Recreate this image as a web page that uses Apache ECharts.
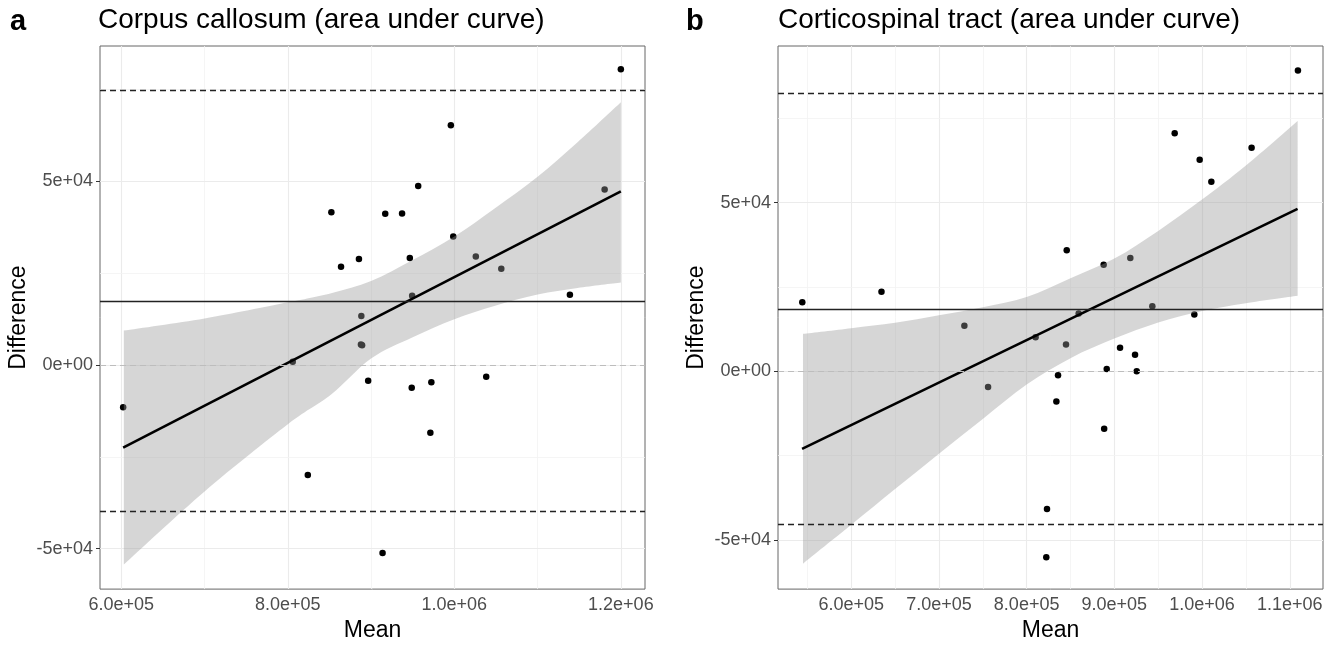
<!DOCTYPE html>
<html><head><meta charset="utf-8">
<script src="https://cdn.jsdelivr.net/npm/echarts@6/dist/echarts.min.js"></script>
<style>html,body{margin:0;padding:0;background:#fff}#c{width:1338px;height:647px}</style>
</head><body><div id="c"></div>
<script>
// ---------- Panel a: Corpus callosum ----------
const ptsAx = [1200000, 995800, 956600, 852300, 917000, 937200, 1180500, 998700, 863900, 885400, 946500, 1025800, 1056400, 949300, 1138800, 888300, 887800, 889200, 805900, 602200, 896500, 948800, 972400, 1038300, 971200, 824000, 913800];
const ptsAy = [80600, 65300, 48800, 41600, 41200, 41300, 47800, 35000, 26800, 28900, 29150, 29550, 26250, 18900, 19150, 13400, 5600, 5400, 900, -11450, -4250, -6200, -4650, -3200, -18400, -29900, -51200];
const fitAx = [602200, 1200000];
const fitAy = [-22490, 47320];
const bandAx = [603000, 700000, 800000, 852000, 900000, 950000, 1000000, 1048000, 1100000, 1148000, 1200000];
const bandAhi = [9400, 12700, 17100, 19600, 22900, 28600, 35000, 42600, 51300, 60700, 71600];
const bandAlo = [-54300, -34400, -16100, -8000, 1800, 7600, 12500, 16100, 19200, 21000, 22500];
const refsA = {mean: 17500, upper: 74900, lower: -39900};
const xTicksA = [600000, 800000, 1000000, 1200000];
const xLabelsA = ['6.0e+05', '8.0e+05', '1.0e+06', '1.2e+06'];
const xMinorA = [700000, 900000, 1100000];

// ---------- Panel b: Corticospinal tract ----------
const ptsBx = [1109300, 968800, 1056500, 997300, 1010600, 845700, 887800, 918200, 943300, 991200, 859300, 844900, 906500, 923600, 891300, 925500, 835800, 833900, 544200, 634500, 729000, 810200, 756000, 823200, 822400, 888400];
const ptsBy = [89150, 70540, 66280, 62690, 56200, 35850, 31590, 33620, 19280, 16860, 17150, 7950, 6980, 4940, 680, 0, -1160, -8910, 20450, 23550, 13470, 10080, -4650, -40800, -55140, -16990];
const fitBx = [543950, 1108900];
const fitBy = [-23010, 48150];
const bandBx = [545000, 600000, 650000, 700000, 750000, 800000, 850000, 900000, 950000, 1000000, 1050000, 1109000];
const bandBhi = [11100, 12800, 14400, 16600, 19000, 22000, 27600, 33400, 41600, 50900, 61000, 74200];
const bandBlo = [-57000, -45500, -34900, -24400, -14100, -3900, 3900, 9700, 14500, 17900, 20200, 22400];
const refsB = {mean: 18450, upper: 82350, lower: -45450};
const xTicksB = [600000, 700000, 800000, 900000, 1000000, 1100000];
const xLabelsB = ['6.0e+05', '7.0e+05', '8.0e+05', '9.0e+05', '1.0e+06', '1.1e+06'];
const xMinorB = [550000, 650000, 750000, 850000, 950000, 1050000];

// ---------- shared y ticks ----------
const yTicks = [-50000, 0, 50000];
const yLabels = ['-5e+04', '0e+00', '5e+04'];
const yMinor = [-25000, 25000, 75000];

const titles = ['Corpus callosum (area under curve)', 'Corticospinal tract (area under curve)'];
const letters = ['a', 'b'];

const FONT = '"Liberation Sans", Arial, Helvetica, sans-serif';

function lookup(vals, labs) {
  return function (v) { const i = vals.indexOf(v); return i >= 0 ? labs[i] : ''; };
}

function curve(p) {
  let s = '';
  const n = p.length;
  for (let i = 0; i < n - 1; i++) {
    const p0 = p[Math.max(i - 1, 0)], p1 = p[i], p2 = p[i + 1], p3 = p[Math.min(i + 2, n - 1)];
    const c1 = [p1[0] + (p2[0] - p0[0]) / 6, p1[1] + (p2[1] - p0[1]) / 6];
    const c2 = [p2[0] - (p3[0] - p1[0]) / 6, p2[1] - (p3[1] - p1[1]) / 6];
    s += ' C' + c1[0] + ' ' + c1[1] + ' ' + c2[0] + ' ' + c2[1] + ' ' + p2[0] + ' ' + p2[1];
  }
  return s;
}

function bandRender(xs, lo, hi) {
  return function (params, api) {
    if (params.dataIndex !== 0) return null;
    const up = xs.map((x, i) => api.coord([x, hi[i]]));
    const dn = xs.map((x, i) => api.coord([x, lo[i]])).reverse();
    const d = 'M' + up[0][0] + ' ' + up[0][1] + curve(up) +
      ' L' + dn[0][0] + ' ' + dn[0][1] + curve(dn) + ' Z';
    return { type: 'path', shape: { pathData: d }, style: { fill: 'rgba(153,153,153,0.4)', stroke: null } };
  };
}

function makeX(gi, min, max, ticks, labels) {
  return {
    type: 'value', gridIndex: gi, min: min, max: max,
    axisLine: { show: false },
    axisTick: { show: true, length: 4, lineStyle: { color: '#333', width: 1 }, customValues: ticks },
    axisLabel: { customValues: ticks, formatter: lookup(ticks, labels), color: '#4d4d4d', fontSize: 18, fontFamily: FONT, margin: 7 },
    splitLine: { show: false },
    name: 'Mean', nameLocation: 'middle', nameGap: 27,
    nameTextStyle: { fontSize: 23, color: '#000', fontFamily: FONT }
  };
}
function makeY(gi, min, max) {
  return {
    type: 'value', gridIndex: gi, min: min, max: max,
    axisLine: { show: false },
    axisTick: { show: true, length: 4, lineStyle: { color: '#333', width: 1 }, customValues: yTicks },
    axisLabel: { customValues: yTicks, formatter: lookup(yTicks, yLabels), color: '#4d4d4d', fontSize: 18, fontFamily: FONT, margin: 7 },
    splitLine: { show: false },
    name: 'Difference', nameLocation: 'middle', nameGap: 70,
    nameTextStyle: { fontSize: 23, color: '#000', fontFamily: FONT }
  };
}

function panelSeries(gi, px, py, fx, fy, bx, blo, bhi, refs, xMaj, xMin) {
  const grid = [];
  xMaj.forEach(v => grid.push({ xAxis: v, lineStyle: { color: '#ebebeb', width: 1.1, type: 'solid' } }));
  xMin.forEach(v => grid.push({ xAxis: v, lineStyle: { color: '#f3f3f3', width: 0.8, type: 'solid' } }));
  yTicks.forEach(v => grid.push({ yAxis: v, lineStyle: { color: '#ebebeb', width: 1.1, type: 'solid' } }));
  yMinor.forEach(v => grid.push({ yAxis: v, lineStyle: { color: '#f3f3f3', width: 0.8, type: 'solid' } }));
  return [
    { type: 'line', xAxisIndex: gi, yAxisIndex: gi, data: [], z: 1, silent: true,
      markLine: { z: 1, silent: true, symbol: ['none', 'none'], label: { show: false }, animation: false, data: grid } },
    { type: 'scatter', xAxisIndex: gi, yAxisIndex: gi, z: 2, symbolSize: 6.5, itemStyle: { color: '#000', opacity: 1 },
      data: px.map((x, i) => [x, py[i]]) },
    { type: 'custom', xAxisIndex: gi, yAxisIndex: gi, z: 3, silent: true,
      renderItem: bandRender(bx, blo, bhi),
      data: bx.map((x, i) => [x, blo[i], bhi[i]]), encode: { x: 0, y: [1, 2] } },
    { type: 'line', xAxisIndex: gi, yAxisIndex: gi, z: 4, showSymbol: false, symbol: 'none',
      lineStyle: { color: '#000', width: 2.6 }, data: fx.map((x, i) => [x, fy[i]]),
      markLine: { z: 5, silent: true, symbol: ['none', 'none'], label: { show: false }, animation: false,
        data: [
          { yAxis: 0, lineStyle: { color: '#bdbdbd', width: 1, type: [6, 4] } },
          { yAxis: refs.mean, lineStyle: { color: '#222', width: 1.4, type: 'solid' } },
          { yAxis: refs.upper, lineStyle: { color: '#222', width: 1.3, type: [6, 4] } },
          { yAxis: refs.lower, lineStyle: { color: '#222', width: 1.3, type: [6, 4] } }
        ] } }
  ];
}

const chart = echarts.init(document.getElementById('c'), null, { renderer: 'canvas' });
const option = {
  animation: false,
  backgroundColor: '#fff',
  textStyle: { fontFamily: FONT },
  grid: [
    { left: 100, right: 693, top: 46, bottom: 49, show: true, borderColor: '#666', borderWidth: 1, backgroundColor: 'transparent', containLabel: false },
    { left: 778, right: 15, top: 46, bottom: 49, show: true, borderColor: '#666', borderWidth: 1, backgroundColor: 'transparent', containLabel: false }
  ],
  xAxis: [makeX(0, 574400, 1229000, xTicksA, xLabelsA), makeX(1, 516500, 1137900, xTicksB, xLabelsB)],
  yAxis: [makeY(0, -61000, 86900), makeY(1, -64550, 96420)],
  graphic: [
    { type: 'text', left: 10, top: 7, style: { text: letters[0], font: 'bold 29px ' + FONT, fill: '#000' } },
    { type: 'text', left: 98, top: 6, style: { text: titles[0], font: '28px ' + FONT, fill: '#000' } },
    { type: 'text', left: 686, top: 7, style: { text: letters[1], font: 'bold 29px ' + FONT, fill: '#000' } },
    { type: 'text', left: 778, top: 6, style: { text: titles[1], font: '28px ' + FONT, fill: '#000' } }
  ],
  series: [].concat(
    panelSeries(0, ptsAx, ptsAy, fitAx, fitAy, bandAx, bandAlo, bandAhi, refsA, xTicksA, xMinorA),
    panelSeries(1, ptsBx, ptsBy, fitBx, fitBy, bandBx, bandBlo, bandBhi, refsB, xTicksB, xMinorB)
  )
};
chart.setOption(option);
</script></body></html>
